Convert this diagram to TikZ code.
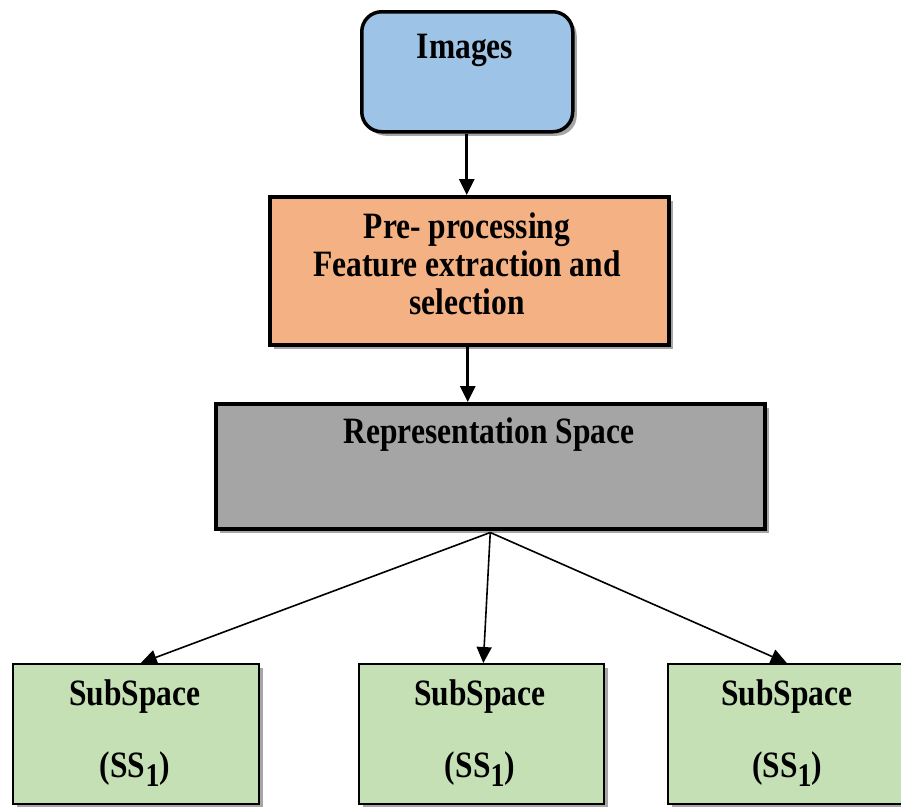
\documentclass[tikz,border=0pt]{standalone}
\usepackage{fontspec}
\setmainfont{Liberation Serif}
\usetikzlibrary{arrows.meta,shadows}
\definecolor{imgblue}{HTML}{9DC3E6}
\definecolor{preorange}{HTML}{F4B183}
\definecolor{repgray}{HTML}{A5A5A5}
\definecolor{subgreen}{HTML}{C5E0B4}
\tikzset{
  box/.style={draw=black, rectangle, inner sep=0pt, anchor=north west,
    general shadow={shadow xshift=4pt, shadow yshift=-4pt, fill=black, opacity=0.35}},
  thickbox/.style={box, line width=3.5pt},
  thinbox/.style={box, line width=1.6pt},
  txt/.style={font=\fontsize{31.5}{32}\selectfont\bfseries, inner sep=0pt, align=center},
  varrow/.style={line width=3pt, -{Triangle[length=16pt,width=15pt]}},
  darrow/.style={line width=1.6pt, -{Triangle[length=16pt,width=15pt]}},
}
\newcommand{\tall}[1]{\scalebox{1}[1.18]{\begin{tabular}{@{}c@{}}#1\end{tabular}}}
\newcommand{\subone}{\raisebox{-0.55ex}{\fontsize{28}{28}\selectfont 1}}
\begin{document}
\begin{tikzpicture}[x=1pt,y=-1pt]
\useasboundingbox (0,0) rectangle (901,806);
% boxes
\node[thickbox, fill=imgblue, rounded corners=20pt, minimum width=211pt, minimum height=120pt] (img) at (360,10) {};
\node[thickbox, fill=preorange, minimum width=399pt, minimum height=148pt] (pre) at (268,195) {};
\node[thickbox, fill=repgray, minimum width=549pt, minimum height=125pt] (rep) at (214,402) {};
\node[thinbox, fill=subgreen, minimum width=246pt, minimum height=140pt] (s1) at (12,663) {};
\node[thinbox, fill=subgreen, minimum width=245pt, minimum height=140pt] (s2) at (358,663) {};
\node[thinbox, fill=subgreen, minimum width=238pt, minimum height=140pt] (s3) at (667,663) {};
% texts
\node[txt] (timg) at (465,51) {\tall{Images}};
\node[txt] (tpre) at (467,269) {\tall{Pre- processing\\Feature extraction and\\selection}};
\node[txt] (trep) at (489,436) {\tall{Representation Space}};
\node[txt] (ts1a) at (135,698) {\tall{SubSpace}};
\node[txt] (ts1b) at (135,770) {\tall{(SS\subone)}};
\node[txt] (ts2a) at (480,698) {\tall{SubSpace}};
\node[txt] (ts2b) at (480,770) {\tall{(SS\subone)}};
\node[txt] (ts3a) at (787,698) {\tall{SubSpace}};
\node[txt] (ts3b) at (787,770) {\tall{(SS\subone)}};
% connectors
\coordinate (rb) at ([yshift=-2pt]rep.south);
\coordinate (a1) at ([xshift=-0.5pt]img.south);
\coordinate (a2) at ([xshift=-1.5pt]pre.south);
\draw[varrow] (a1) -- (a1 |- pre.north);
\draw[varrow] (a2) -- (a2 |- rep.north);
\draw[darrow] (rb) -- ([xshift=5pt]s1.north);
\draw[darrow] (rb) -- ([xshift=2pt]s2.north);
\draw[darrow] (rb) -- (s3.north);
\end{tikzpicture}
\end{document}
